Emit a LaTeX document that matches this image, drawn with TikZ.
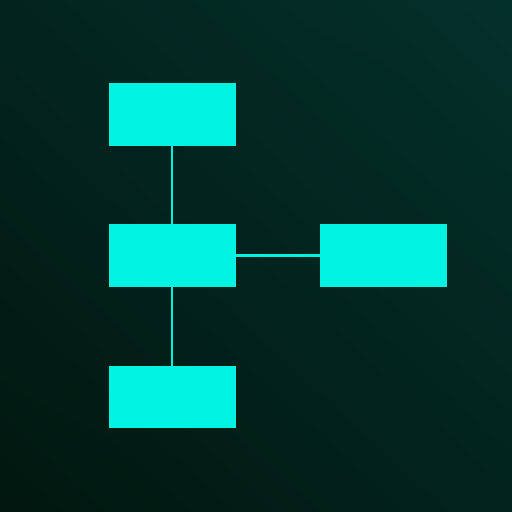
\documentclass[tikz,border=0pt]{standalone}
\usetikzlibrary{shadings}
\definecolor{boxc}{HTML}{00F2E1}
\definecolor{bgbl}{HTML}{01170F}
\definecolor{bgtr}{HTML}{04302B}
\definecolor{bgtl}{HTML}{03241E}
\definecolor{bgbr}{HTML}{02231D}
\tikzset{
  blk/.style={fill=boxc, draw=none, minimum width=127pt, minimum height=62.5pt, inner sep=0pt, outer sep=0pt},
  link/.style={draw=boxc, line width=2.5pt}
}
\begin{document}
\begin{tikzpicture}[x=1pt,y=-1pt]
\useasboundingbox (0,0) rectangle (512,512);
\shade[upper left=bgtl, upper right=bgtr, lower left=bgbl, lower right=bgbr] (0,0) rectangle (512,512);
\node[blk] (top) at (172,114.5) {};
\node[blk] (mid) at (172,255.5) {};
\node[blk] (right) at (383.5,255.5) {};
\node[blk] (bot) at (172,397) {};
\draw[link] (top.south) -- (mid.north);
\draw[link] (mid.south) -- (bot.north);
\draw[link] (mid.east) -- (right.west);
\end{tikzpicture}
\end{document}
